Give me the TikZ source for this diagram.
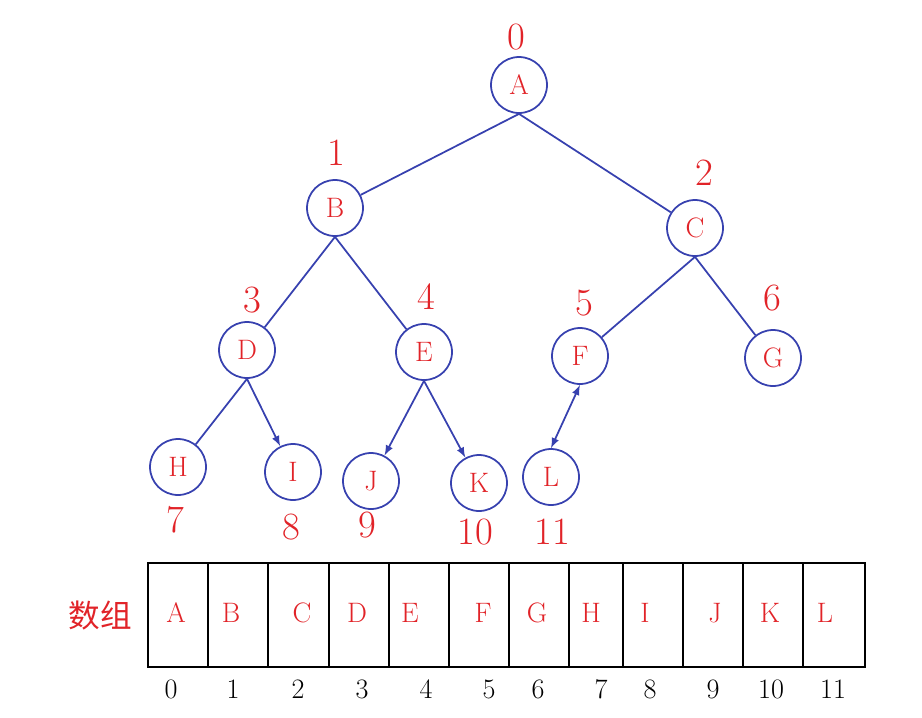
\documentclass[tikz,border=0pt]{standalone}
\usepackage{fontspec}
\newfontfamily\cjk{Noto Sans CJK SC}
\definecolor{treered}{RGB}{225,35,40}
\definecolor{treeblue}{RGB}{55,65,175}
\begin{document}
\begin{tikzpicture}[
      x=0.02cm,y=-0.02cm,
      >=latex,
      node/.style={
        draw=treeblue,line width=1pt,circle,minimum size=1.12cm,inner sep=0pt,
        text=treered,font=\fontsize{16}{18}\selectfont
      },
      idx/.style={text=treered,font=\fontsize{22}{24}\selectfont},
      cell/.style={text=treered,font=\fontsize{16}{18}\selectfont},
      slotnum/.style={font=\fontsize{16}{18}\selectfont},
      edge/.style={treeblue,line width=1pt},
    ]
    \useasboundingbox (0,0) rectangle (922,717);
    \node[node] (A) at (519,85) {A};
    \node[node] (B) at (335,208) {B};
    \node[node] (C) at (695,228) {C};
    \node[node] (D) at (247,350) {D};
    \node[node] (E) at (424,352) {E};
    \node[node] (F) at (580,356) {F};
    \node[node] (G) at (773,358) {G};
    \node[node] (H) at (178,467) {H};
    \node[node] (I) at (293,472) {I};
    \node[node] (J) at (371,481) {J};
    \node[node] (K) at (479,483) {K};
    \node[node] (L) at (551,477) {L};
    \draw[edge] (A.south) -- (B);
    \draw[edge] (A.south) -- (C);
    \draw[edge] (B.south) -- (D);
    \draw[edge] (B.south) -- (E);
    \draw[edge] (C.south) -- (F);
    \draw[edge] (C.south) -- (G);
    \draw[edge] (D.south) -- (H);
    \draw[edge,->] (D.south) -- (I);
    \draw[edge,->] (E.south) -- (J);
    \draw[edge,->] (E.south) -- (K);
    \draw[edge,<->] (F.south) -- (L.north);
    \node[idx] (i0) at (516,37) {0};
    \node[idx] (i1) at (336,153) {1};
    \node[idx] (i2) at (704,173) {2};
    \node[idx] (i3) at (252,300) {3};
    \node[idx] (i4) at (426,297) {4};
    \node[idx] (i5) at (584,303) {5};
    \node[idx] (i6) at (772,298) {6};
    \node[idx] (i7) at (175,520) {7};
    \node[idx] (i8) at (291,527) {8};
    \node[idx] (i9) at (367,525) {9};
    \node[idx] (i10) at (475,532) {10};
    \node[idx] (i11) at (552,532) {11};
    % array
    \draw[line width=1.5pt] (148,563) rectangle (865,667);
    \foreach \x in {208,268,329,389,449,509,569,623,683,743,803}
      \draw[line width=1.5pt] (\x,563) -- (\x,667);
    \foreach \t/\x in {A/176,B/231,C/302,D/357,E/410,F/483,G/537,H/591,I/645,J/715,K/770,L/825}
      \node[cell] (c\t) at (\x,613) {\t};
    \foreach \n/\x in {0/171,1/233,2/298,3/362,4/426,5/489,6/538,7/601,8/650,9/713,10/771,11/833}
      \node[slotnum] (p\n) at (\x,689) {\n};
    \node[text=treered,font=\cjk\fontsize{18}{20}\selectfont] (arr) at (100,616) {数组};
  \end{tikzpicture}
\end{document}
